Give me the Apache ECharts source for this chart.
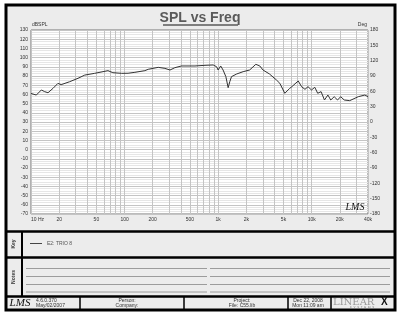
<!DOCTYPE html>
<html>
<head>
<meta charset="utf-8">
<script src="https://cdn.jsdelivr.net/npm/echarts@6/dist/echarts.min.js"></script>
<style>
  html, body { margin: 0; padding: 0; background: #fff; }
  #chart { width: 400px; height: 320px; }
</style>
</head>
<body>
<div id="chart"></div>
<script>
const freq = [10, 11.4, 12.9, 14, 15.2, 17.2, 19.4, 21, 25.9, 31.8, 37.5, 47.9, 66.5, 75, 93,
  109, 129, 165, 179, 229, 270, 306, 344, 405, 566, 724, 885, 963, 1000, 1065, 1130, 1210,
  1280, 1333, 1390, 1580, 1850, 2170, 2530, 2790, 3020, 3540, 4200, 4570, 5160, 5830, 6140,
  7180, 7800, 8480, 9140, 9940, 10800, 11600, 12600, 13700, 14900, 16000, 17400, 18900,
  20400, 22300, 25500, 31500, 37000, 40000]
const spl = [61, 59.3, 64.8, 63, 61.8, 66.6, 72, 70.6, 73.8, 77.5, 81, 82.9, 85.8, 83.6, 82.9,
  83, 84, 85.8, 87.3, 89.4, 88.3, 86.5, 89, 90.9, 90.9, 91.6, 92, 90.1, 86.5, 90.9, 86.5, 79.3,
  67.3, 73.8, 79.3, 82.2, 84.7, 86.5, 92.7, 90.9, 86.5, 82.2, 75.7, 72, 61.2, 66.6, 68.4,
  74.6, 68.4, 65.5, 68.4, 64.8, 67.7, 61.2, 63, 53.9, 59.3, 53.9, 57.5, 53.9,
  57.5, 53.9, 53.2, 57.5, 59.3, 57.5]

const xLabelValues = [10, 20, 50, 100, 200, 500, 1000, 2000, 5000, 10000, 20000, 40000]
const xLabelTexts = ['10 Hz', '20', '50', '100', '200', '500', '1k', '2k', '5k', '10k', '20k', '40k']
// grid lines at every 1..9 multiple of each decade
const xGridValues = [10, 20, 30, 40, 50, 60, 70, 80, 90, 100, 200, 300, 400, 500, 600, 700, 800, 900,
  1000, 2000, 3000, 4000, 5000, 6000, 7000, 8000, 9000, 10000, 20000, 30000, 40000]

const seriesName = 'E2: TRIO 8'

const font = 'Liberation Sans, Arial, sans-serif'
const labelText = (v) => xLabelTexts[xLabelValues.indexOf(v)] || ''

const instance = echarts.init(document.getElementById('chart'))

const option = {
  animation: false,
  backgroundColor: '#fff',
  textStyle: { fontFamily: font },
  title: {
    text: 'SPL vs Freq',
    left: 'center',
    top: 6,
    textStyle: { fontSize: 14, fontWeight: 'bold', color: '#5a5a5a', fontFamily: font },
  },
  legend: {
    left: 25,
    top: 236,
    itemWidth: 12,
    itemHeight: 1,
    itemGap: 4,
    icon: 'rect',
    textStyle: { fontSize: 5, color: '#555' },
    data: [seriesName],
  },
  grid: {
    left: 31,
    top: 30,
    right: 32,
    bottom: 106,
    show: true,
    backgroundColor: '#fff',
    borderColor: '#777',
    borderWidth: 1,
  },
  xAxis: {
    type: 'log',
    logBase: 10,
    min: 10,
    max: 40000,
    axisLine: { show: false },
    axisTick: { show: false, customValues: xGridValues },
    splitLine: { show: true, lineStyle: { color: '#c4c4c4', width: 1 } },
    axisLabel: {
      customValues: xLabelValues,
      formatter: labelText,
      fontSize: 5,
      color: '#333',
      margin: 3,
      alignMinLabel: 'left',
      alignMaxLabel: 'center',
    },
  },
  yAxis: [
    {
      type: 'value',
      min: -70,
      max: 130,
      interval: 10,
      name: 'dBSPL',
      nameLocation: 'end',
      nameGap: 1,
      nameTextStyle: { fontSize: 5, color: '#333', align: 'left', padding: [0, 0, 0, 1] },
      axisLine: { show: false },
      axisTick: { show: false },
      axisLabel: { fontSize: 5, color: '#333', margin: 3 },
      splitLine: { show: true, lineStyle: { color: '#c4c4c4' } },
      minorTick: { show: false, splitNumber: 4 },
      minorSplitLine: { show: true, lineStyle: { color: '#e6e6e6' } },
    },
    {
      type: 'value',
      min: -180,
      max: 180,
      interval: 30,
      position: 'right',
      name: 'Deg',
      nameLocation: 'end',
      nameGap: 1,
      nameTextStyle: { fontSize: 5, color: '#333', align: 'right', padding: [0, 1, 0, 0] },
      axisLine: { show: false },
      axisTick: { show: false },
      axisLabel: { fontSize: 5, color: '#333', margin: 2 },
      splitLine: { show: false },
    },
  ],
  series: [
    {
      name: seriesName,
      type: 'line',
      data: freq.map((f, i) => [f, spl[i]]),
      symbol: 'none',
      color: '#444',
      lineStyle: { color: '#333', width: 1 },
    },
  ],
  graphic: [
    // outer frame
    { type: 'rect', z: -10, shape: { x: 6, y: 5, width: 389, height: 305 },
      style: { fill: '#ececec', stroke: '#000', lineWidth: 3 } },
    // title underline
    { type: 'line', shape: { x1: 163, y1: 25, x2: 238, y2: 25 },
      style: { stroke: '#5a5a5a', lineWidth: 1.5 } },
    // section dividers
    { type: 'line', shape: { x1: 6, y1: 231.5, x2: 395, y2: 231.5 }, style: { stroke: '#000', lineWidth: 2.5 } },
    { type: 'line', shape: { x1: 6, y1: 257.5, x2: 395, y2: 257.5 }, style: { stroke: '#000', lineWidth: 2.5 } },
    { type: 'line', shape: { x1: 6, y1: 296.5, x2: 395, y2: 296.5 }, style: { stroke: '#000', lineWidth: 2.5 } },
    { type: 'line', shape: { x1: 22, y1: 231, x2: 22, y2: 297 }, style: { stroke: '#000', lineWidth: 2 } },
    // notes lines
    ...[268.5, 276.5, 284.5, 292].flatMap((y) => [
      { type: 'line', shape: { x1: 26, y1: y, x2: 207, y2: y }, style: { stroke: '#888', lineWidth: 0.8 } },
      { type: 'line', shape: { x1: 210, y1: y, x2: 390, y2: y }, style: { stroke: '#888', lineWidth: 0.8 } },
    ]),
    // footer dividers
    ...[80, 184, 288, 331].map((x) => ({
      type: 'line', shape: { x1: x, y1: 297, x2: x, y2: 310 }, style: { stroke: '#000', lineWidth: 1.5 },
    })),
    // side labels
    { type: 'text', x: 14, y: 244, rotation: Math.PI / 2,
      style: { text: 'Key', font: 'bold 5px ' + font, fill: '#333', align: 'center', verticalAlign: 'middle' } },
    { type: 'text', x: 14, y: 277, rotation: Math.PI / 2,
      style: { text: 'Notes', font: 'bold 5px ' + font, fill: '#333', align: 'center', verticalAlign: 'middle' } },
    // logos
    { type: 'text', x: 355, y: 207, z: 100,
      style: { text: 'LMS', font: 'italic 10px Liberation Serif, serif', fill: '#111', align: 'center', verticalAlign: 'middle' } },
    { type: 'text', x: 20, y: 303.5,
      style: { text: 'LMS', font: 'italic 11px Liberation Serif, serif', fill: '#111', align: 'center', verticalAlign: 'middle' } },
    // footer text
    { type: 'text', x: 36, y: 300.5, style: { text: '4.6.0.370', font: '5px ' + font, fill: '#333', verticalAlign: 'middle' } },
    { type: 'text', x: 36, y: 306, style: { text: 'May/02/2007', font: '5px ' + font, fill: '#333', verticalAlign: 'middle' } },
    { type: 'text', x: 127, y: 300.5, style: { text: 'Person:', font: '5px ' + font, fill: '#333', align: 'center', verticalAlign: 'middle' } },
    { type: 'text', x: 127, y: 306, style: { text: 'Company:', font: '5px ' + font, fill: '#333', align: 'center', verticalAlign: 'middle' } },
    { type: 'text', x: 242, y: 300.5, style: { text: 'Project:', font: '5px ' + font, fill: '#333', align: 'center', verticalAlign: 'middle' } },
    { type: 'text', x: 242, y: 306, style: { text: 'File: C55.lib', font: '5px ' + font, fill: '#333', align: 'center', verticalAlign: 'middle' } },
    { type: 'text', x: 308, y: 300.5, style: { text: 'Dec 22, 2008', font: '5px ' + font, fill: '#333', align: 'center', verticalAlign: 'middle' } },
    { type: 'text', x: 308, y: 306, style: { text: 'Mon 11:09 am', font: '5px ' + font, fill: '#333', align: 'center', verticalAlign: 'middle' } },
    { type: 'text', x: 333, y: 302,
      style: { text: 'LINEAR', font: '10px DejaVu Serif, serif', fill: '#999', verticalAlign: 'middle' } },
    { type: 'text', x: 381, y: 302,
      style: { text: 'X', font: 'bold 10px ' + font, fill: '#111', verticalAlign: 'middle' } },
    { type: 'text', x: 362, y: 308.3,
      style: { text: 'S  Y  S  T  E  M  S', font: '3px ' + font, fill: '#777', align: 'center', verticalAlign: 'middle' } },
  ],
}

instance.setOption(option)
</script>
</body>
</html>
